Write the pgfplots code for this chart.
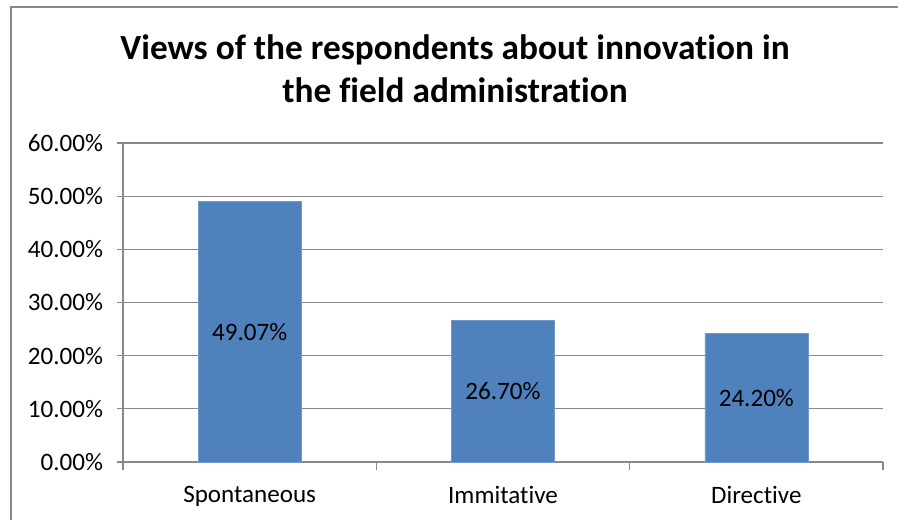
\documentclass[border=0pt]{standalone}
\usepackage{pgfplots}
\pgfplotsset{compat=1.18}
\usepackage{fontspec}
\setmainfont{Carlito}[Ligatures=NoCommon]
\definecolor{barblue}{HTML}{4F81BD}
\definecolor{gridgray}{HTML}{888888}
\begin{document}
\begin{tikzpicture}
\useasboundingbox (0pt,0pt) rectangle (673.5pt,390pt);
\draw[gridgray,line width=0.9pt] (8.25pt,0pt) -- (8.25pt,384.75pt) -- (673.5pt,384.75pt);
\node[font=\fontsize{26.5}{32.5}\selectfont\bfseries,align=center,anchor=base] at (341.25pt,313pt) {Views of the respondents about innovation in\\the field administration};
\begin{axis}[
  at={(92.25pt,43.5pt)}, anchor=south west,
  width=570pt, height=239.25pt, scale only axis,
  xmin=-0.5, xmax=2.5, ymin=0, ymax=60,
  axis x line*=bottom, axis y line*=left,
  axis line style={gridgray,line width=0.9pt,-},
  xtick={0,1,2},
  xticklabels={Spontaneous,Immitative,Directive},
  major x tick style={draw=none},
  minor xtick={-0.5,0.5,1.5,2.5},
  minor x tick style={gridgray,line width=0.9pt},
  minor tick length=6pt,
  ytick={0,10,20,30,40,50,60},
  y tick style={gridgray,line width=0.9pt},
  major tick length=4.5pt,
  tick align=outside,
  ymajorgrids,
  grid style={gridgray,line width=0.9pt},
  yticklabel={\pgfmathprintnumber[fixed,fixed zerofill,precision=2]{\tick}\%},
  /pgf/number format/assume math mode=true,
  ticklabel style={font=\fontsize{18.8}{22}\selectfont},
  xticklabel style={yshift=-10.5pt},
  yticklabel style={xshift=-7pt},
  ybar, bar width=77.25pt,
  nodes near coords={\pgfmathprintnumber[fixed,fixed zerofill,precision=2,assume math mode=true]{\pgfplotspointmeta}\%},
  visualization depends on=y \as \rawy,
  every node near coord/.append style={font=\fontsize{18.8}{22}\selectfont,anchor=center,yshift=-\rawy*1.99375pt, black},
  clip=false,
]
\addplot[fill=barblue,draw=barblue!80!white] coordinates {(0,49.07) (1,26.70) (2,24.20)};
\end{axis}
\end{tikzpicture}
\end{document}
